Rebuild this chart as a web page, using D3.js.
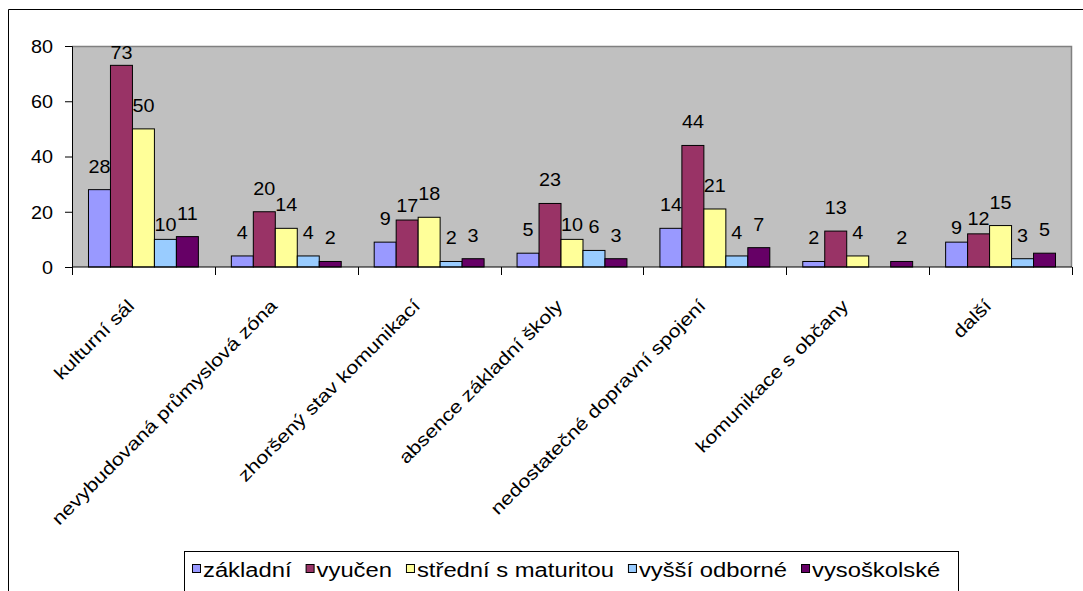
<!DOCTYPE html>
<html>
<head>
<meta charset="utf-8">
<script src="https://cdn.jsdelivr.net/npm/d3@7"></script>
<style>
  html, body { margin: 0; padding: 0; background: #fff; }
  svg { display: block; }
  text { font-family: "Liberation Sans", Arial, sans-serif; fill: #000; }
</style>
</head>
<body>
<svg id="chart" width="1083" height="591"></svg>
<script>
// Categories along the x axis
const categories = [
  "kulturní sál",
  "nevybudovaná průmyslová zóna",
  "zhoršený stav komunikací",
  "absence základní školy",
  "nedostatečné dopravní spojení",
  "komunikace s občany",
  "další"
];
// Series (education level)
const seriesNames = ["základní", "vyučen", "střední s maturitou", "vyšší odborné", "vysoškolské"];
const zakladni      = [28,  4,  9,  5, 14,  2,  9];
const vyucen        = [73, 20, 17, 23, 44, 13, 12];
const stredni       = [50, 14, 18, 10, 21,  4, 15];
const vyssiOdborne  = [10,  4,  2,  6,  4, null, 3];
const vysokoskolske = [11,  2,  3,  3,  7,  2,  5];
const seriesColors  = ["#9999FF", "#993366", "#FFFF99", "#99CCFF", "#660066"];
const yTicks = [0, 20, 40, 60, 80];

const seriesValues = [zakladni, vyucen, stredni, vyssiOdborne, vysokoskolske];

const svg = d3.select("#chart");
const plot = { left: 72, right: 1072, top: 46, bottom: 267 };
const FS = 18, SX = 1.1;        // label font size and horizontal stretch
const CAP = 13;                 // digit height at FS

// outer chart frame
svg.append("path")
  .attr("d", "M8.5,600 V9.5 H1090")
  .attr("fill", "none").attr("stroke", "#000").attr("stroke-width", 1);

const x0 = d3.scaleBand().domain(categories).range([plot.left, plot.right]);
const x1 = d3.scaleBand().domain(seriesNames).range([0, x0.bandwidth()]).paddingOuter(0.75);
const y = d3.scaleLinear().domain([0, 80]).range([plot.bottom, plot.top]);

// plot area
svg.append("rect")
  .attr("x", plot.left).attr("y", plot.top)
  .attr("width", plot.right - plot.left).attr("height", plot.bottom - plot.top)
  .attr("fill", "#C0C0C0");
svg.append("path")
  .attr("d", `M${plot.left},${plot.top + 0.5} H${plot.right - 0.5} V${plot.bottom}`)
  .attr("fill", "none").attr("stroke", "#808080").attr("stroke-width", 1.5);

// bars
const groups = svg.append("g").selectAll("g")
  .data(categories)
  .join("g")
  .attr("transform", d => `translate(${x0(d)},0)`);

groups.selectAll("rect")
  .data((c, i) => seriesNames.map((s, j) => ({ s, j, v: seriesValues[j][i] })).filter(d => d.v != null))
  .join("rect")
  .attr("x", d => x1(d.s))
  .attr("y", d => y(d.v))
  .attr("width", x1.bandwidth())
  .attr("height", d => y(0) - y(d.v))
  .attr("fill", d => seriesColors[d.j])
  .attr("stroke", "#000")
  .attr("stroke-width", 1);

// y axis
const yAxis = d3.axisLeft(y).tickValues(yTicks).tickSize(7).tickPadding(12).tickFormat(d3.format("d"));
const yg = svg.append("g").attr("transform", `translate(${plot.left},0)`).call(yAxis);
yg.select(".domain").attr("stroke", "#000");
yg.selectAll(".tick line").attr("stroke", "#000");
yg.selectAll(".tick text")
  .attr("font-size", FS)
  .attr("font-family", "Liberation Sans, Arial, sans-serif")
  .attr("x", null).attr("dy", "0.36em")
  .attr("transform", `translate(-19,0) scale(${SX},1)`);

// x axis with ticks between categories
const xg = svg.append("g").attr("transform", `translate(0,${plot.bottom})`);
xg.append("line").attr("x1", plot.left).attr("x2", plot.right).attr("stroke", "#000");
const boundaries = categories.map(c => x0(c)).concat([plot.right]);
xg.selectAll(".bt").data(boundaries).join("line")
  .attr("x1", d => Math.round(d) + 0.5).attr("x2", d => Math.round(d) + 0.5)
  .attr("y1", 0).attr("y2", 8).attr("stroke", "#000");

// category labels, rotated
svg.append("g").selectAll("text")
  .data(categories)
  .join("text")
  .attr("transform", d => `translate(${x0(d) + x0.bandwidth() / 2 - 8},${307}) rotate(-45) scale(1.2,1)`)
  .attr("text-anchor", "end")
  .attr("font-size", FS)
  .text(d => d);

// data labels
const labels = [];
categories.forEach((c, i) => {
  const row = seriesNames.map((s, j) => {
    const v = seriesValues[j][i];
    if (v == null) return null;
    const cx = x0(c) + x1(s) + x1.bandwidth() / 2;
    const w = String(v).length * 0.556 * FS * SX;
    let base = Math.max(y(v) - 17, plot.top + CAP);
    return { v, cx, w, base, top: y(v) };
  });
  for (let j = 0; j < row.length - 1; j++) {
    const a = row[j], b = row[j + 1];
    if (!a || !b) continue;
    const hOverlap = Math.abs(a.cx - b.cx) < a.w / 2 + b.w / 2 + 7;
    const vOverlap = a.base > b.base - CAP && a.base - CAP < b.base;
    if (hOverlap && vOverlap) a.base = a.top - 8.5;
  }
  row.forEach(d => { if (d) labels.push(d); });
});

svg.append("g").selectAll("text")
  .data(labels)
  .join("text")
  .attr("transform", d => `translate(${d.cx},${d.base}) scale(${SX},1)`)
  .attr("text-anchor", "middle")
  .attr("font-size", FS)
  .text(d => d.v);

// legend
const legend = svg.append("g");
legend.append("rect")
  .attr("x", 184.5).attr("y", 551.5).attr("width", 774).attr("height", 60)
  .attr("fill", "#fff").attr("stroke", "#000").attr("stroke-width", 1);
let lx = 192;
const LFS = 20, LSX = 1.19;
seriesNames.forEach((s, j) => {
  legend.append("rect")
    .attr("x", lx + 0.5).attr("y", 564.5).attr("width", 8).attr("height", 8)
    .attr("fill", seriesColors[j]).attr("stroke", "#000").attr("stroke-width", 1);
  const t = legend.append("text")
    .attr("transform", `translate(${lx + 11},577) scale(${LSX},1)`)
    .attr("font-size", LFS)
    .text(s);
  const w = t.node().getComputedTextLength() * LSX;
  lx += 11 + w + 14;
});
</script>
</body>
</html>
